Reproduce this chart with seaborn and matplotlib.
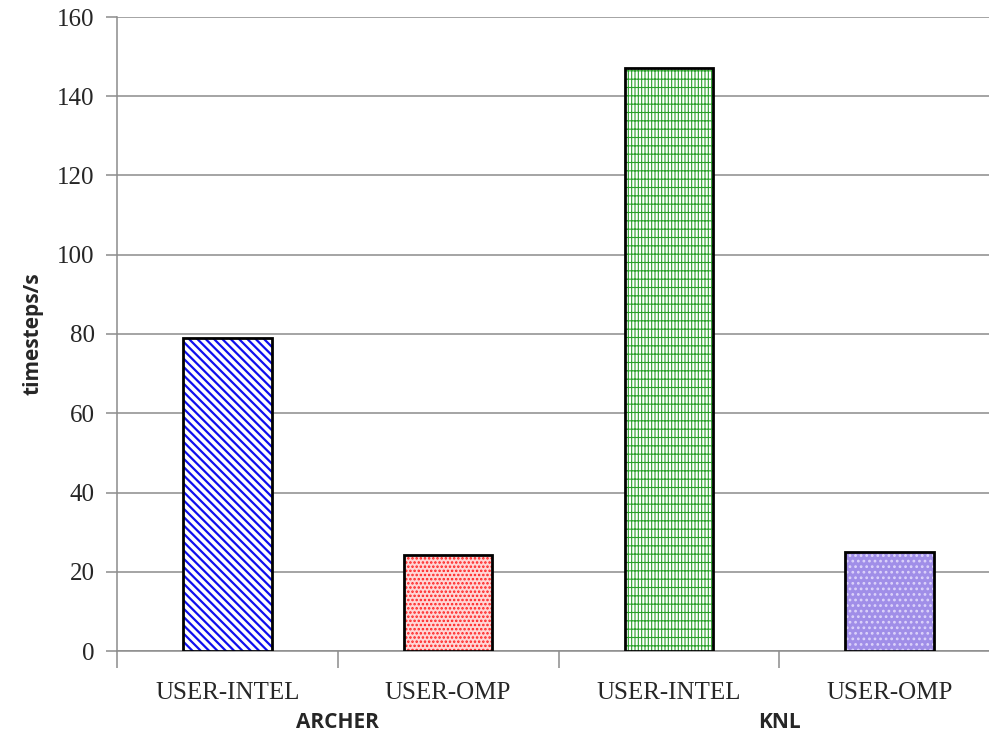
import matplotlib
matplotlib.use("Agg")
import matplotlib.pyplot as plt
import pandas as pd
import seaborn as sns

# values
systems = ["ARCHER", "ARCHER", "KNL", "KNL"]
packages = ["USER-INTEL", "USER-OMP", "USER-INTEL", "USER-OMP"]
rates = [79.0, 24.3, 147.2, 25.0]
yticks = [0, 20, 40, 60, 80, 100, 120, 140, 160]

# look of each bar (hatch, hatch colour, background, hatch width)
hatches = ["\\" * 4, "." * 4, "|" * 5 + "-" * 2, "." * 3]
hatch_colors = ["#1010ee", "#ff2020", "#2aa02a", "#dcd3fa"]
face_colors = ["white", "#ffd6d6", "white", "#a08ee8"]
hatch_widths = [1.6, 1.2, 0.8, 1.2]

df = pd.DataFrame({"system": systems, "package": packages, "rate": rates})
df["bar"] = df["system"] + " " + df["package"]
order = list(df["bar"])

sns.set_style("white")
plt.rcParams["hatch.linewidth"] = 1.5

fig = plt.figure(figsize=(9.89, 7.31), dpi=100)
ax = fig.add_axes([117 / 989, 80 / 731, 883 / 989, 634 / 731])

# hatched fill
sns.barplot(data=df, x="bar", y="rate", order=order, width=0.40,
            errorbar=None, ax=ax, zorder=3)
for p, h, hc, fc, hw in zip(ax.patches, hatches, hatch_colors, face_colors, hatch_widths):
    p.set_facecolor(fc)
    p.set_hatch(h)
    p.set_edgecolor(hc)
    p.set_linewidth(0)
    if hasattr(p, "set_hatch_linewidth"):
        p.set_hatch_linewidth(hw)

# black outline on top
sns.barplot(data=df, x="bar", y="rate", order=order, width=0.40,
            errorbar=None, ax=ax, fill=False, edgecolor="black",
            linewidth=2, zorder=4)

ax.set_xlim(-0.5, len(order) - 0.5)
ax.set_ylim(0, 160)
ax.set_yticks(yticks)
ax.set_yticklabels([str(v) for v in yticks], family="Liberation Serif", fontsize=18)
ax.yaxis.grid(True, color="#8c8c8c", linewidth=1.1, zorder=0)
ax.set_axisbelow(True)

# tick marks at category boundaries, labels in the middle
ax.set_xticks([i - 0.5 for i in range(len(order))])
ax.set_xticklabels([])
ax.set_xticks(range(len(order)), minor=True)
ax.set_xticklabels(packages, minor=True, family="Liberation Serif", fontsize=18)
ax.tick_params(axis="x", which="major", length=12, width=1.1, color="#8c8c8c",
               direction="out", bottom=True)
ax.tick_params(axis="x", which="minor", length=0, pad=22)
ax.tick_params(axis="y", length=8, width=1.1, color="#8c8c8c", direction="out",
               left=True, pad=8)

for s in ["top", "right"]:
    ax.spines[s].set_visible(False)
for s in ["left", "bottom"]:
    ax.spines[s].set_color("#8c8c8c")
    ax.spines[s].set_linewidth(1.1)

ax.set_xlabel("")
ax.set_ylabel("timesteps/s", family="Open Sans", fontweight="bold", fontsize=15,
              labelpad=10)

# system group labels
for i, name in enumerate(["ARCHER", "KNL"]):
    ax.text(2 * i + 0.5, -0.112, name, transform=ax.get_xaxis_transform(),
            ha="center", va="center", family="Open Sans", fontweight="bold",
            fontsize=15)

fig.savefig("out.png", dpi=100)
